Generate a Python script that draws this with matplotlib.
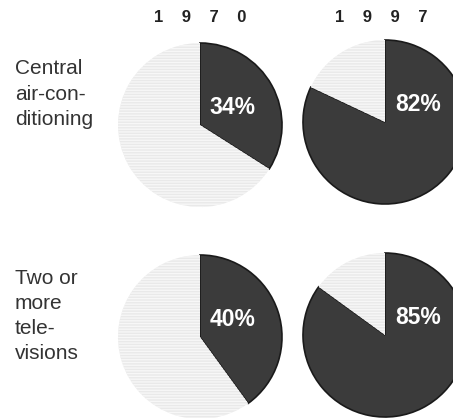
import matplotlib.pyplot as plt

# data
years = ["1    9    7    0", "1    9    9    7"]
items = ["Central\nair-con-\nditioning", "Two or\nmore\ntele-\nvisions"]
shares = [[34, 82], [40, 85]]

W, H = 453, 418
plt.rcParams["hatch.color"] = "#f8f8f8"
fig = plt.figure(figsize=(W / 100, H / 100), dpi=100)
fig.patch.set_facecolor("white")

dark = "#3b3b3b"
light = "#e9e9e9"

# pie centres in pixels (x, y from top) and radius
centres = [[(200, 125), (385, 122)], [(200, 337), (385, 335)]]
r = 82

for i, row in enumerate(shares):
    for j, pct in enumerate(row):
        cx, cy = centres[i][j]
        ax = fig.add_axes([(cx - r) / W, 1 - (cy + r) / H, 2 * r / W, 2 * r / H])
        wedges, _ = ax.pie([pct, 100 - pct], startangle=90, counterclock=False,
                           colors=[dark, light], radius=1)
        wedges[0].set_edgecolor("#1a1a1a")
        wedges[0].set_linewidth(1.2)
        wedges[1].set_hatch("------")
        wedges[1].set_edgecolor("#f7f7f7")
        wedges[1].set_linewidth(0)
        ax.set_xlim(-1, 1)
        ax.set_ylim(-1, 1)
        ax.set_aspect("equal")
        ax.axis("off")
        # label inside the dark wedge
        ax.text(0.40, 0.21, f"{pct}%", color="white", fontsize=16.5, fontweight="bold",
                ha="center", va="center", family="Liberation Sans")

for j, yr in enumerate(years):
    x = [200, 381][j]
    fig.text(x / W, 1 - 18 / H, yr, ha="center", va="center", fontsize=12,
             fontweight="bold", color="#222222", family="Liberation Sans")

for i, lab in enumerate(items):
    y = [94, 316][i]
    fig.text(15 / W, 1 - y / H, lab, ha="left", va="center", fontsize=15,
             color="#333333", family="Liberation Sans", linespacing=1.42)

fig.savefig("out.png", dpi=100, facecolor="white")
